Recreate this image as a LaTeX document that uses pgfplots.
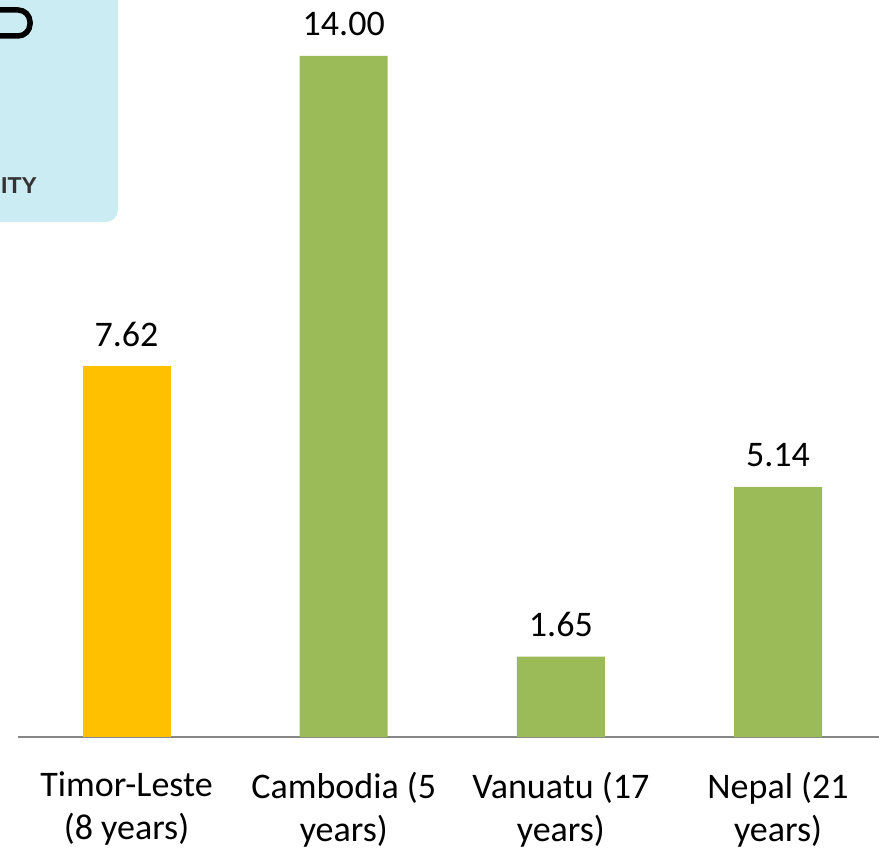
\documentclass[border=0pt]{standalone}
\usepackage{fontspec}
\setmainfont{Carlito}
\newfontfamily\panelfont{Liberation Sans}
\usepackage{pgfplots}
\pgfplotsset{compat=1.18}
\definecolor{barOrange}{RGB}{255,192,0}
\definecolor{barGreen}{RGB}{155,187,89}
\definecolor{axisGray}{RGB}{134,134,134}
\definecolor{panelBlue}{RGB}{204,236,243}

\begin{document}
\begin{tikzpicture}
  \useasboundingbox (0,0) rectangle (879bp,849bp);
  \clip (0,0) rectangle (879bp,849bp);
  % cut-off info panel at top left
  \fill[panelBlue, rounded corners=12bp] (-30bp,627bp) rectangle (118bp,880bp);
  \draw[black, line width=5.5bp, rounded corners=12bp] (-40bp,813bp) rectangle (30bp,839bp);
  \node[anchor=base west, inner sep=0pt, text=black!80, font=\panelfont\bfseries\fontsize{23bp}{26bp}\selectfont]
    at (1bp,655bp) {ITY};
  \begin{axis}[
    at={(18bp,112bp)}, anchor=south west,
    scale only axis,
    width=861bp, height=737bp,
    ybar, bar width=88bp, bar shift=0pt,
    xmin=-0.5, xmax=3.465,
    ymin=0, ymax=15.151,
    axis x line*=bottom,
    axis y line=none,
    x axis line style={axisGray, line width=1.8bp},
    xtick={0,1,2,3},
    xticklabels={{Timor-Leste\\(8 years)},{Cambodia (5\\years)},{Vanuatu (17\\years)},{Nepal (21\\years)}},
    xtick style={draw=none},
    xticklabel style={align=center, anchor=north, yshift=-27bp,
      font=\fontsize{36bp}{43bp}\selectfont},
    nodes near coords,
    /pgf/number format/assume math mode=true,
    /pgf/number format/.cd, fixed, fixed zerofill, precision=2, /pgfplots/.cd,
    every node near coord/.append style={anchor=base, yshift=20bp,
      font=\fontsize{36bp}{43bp}\selectfont, text=black},
    clip=false,
  ]
  \addplot[draw=none, fill=barOrange] coordinates {(0,7.62)};
  \addplot[draw=none, fill=barGreen] coordinates {(1,14.00) (2,1.65) (3,5.14)};
  \end{axis}
\end{tikzpicture}
\end{document}
